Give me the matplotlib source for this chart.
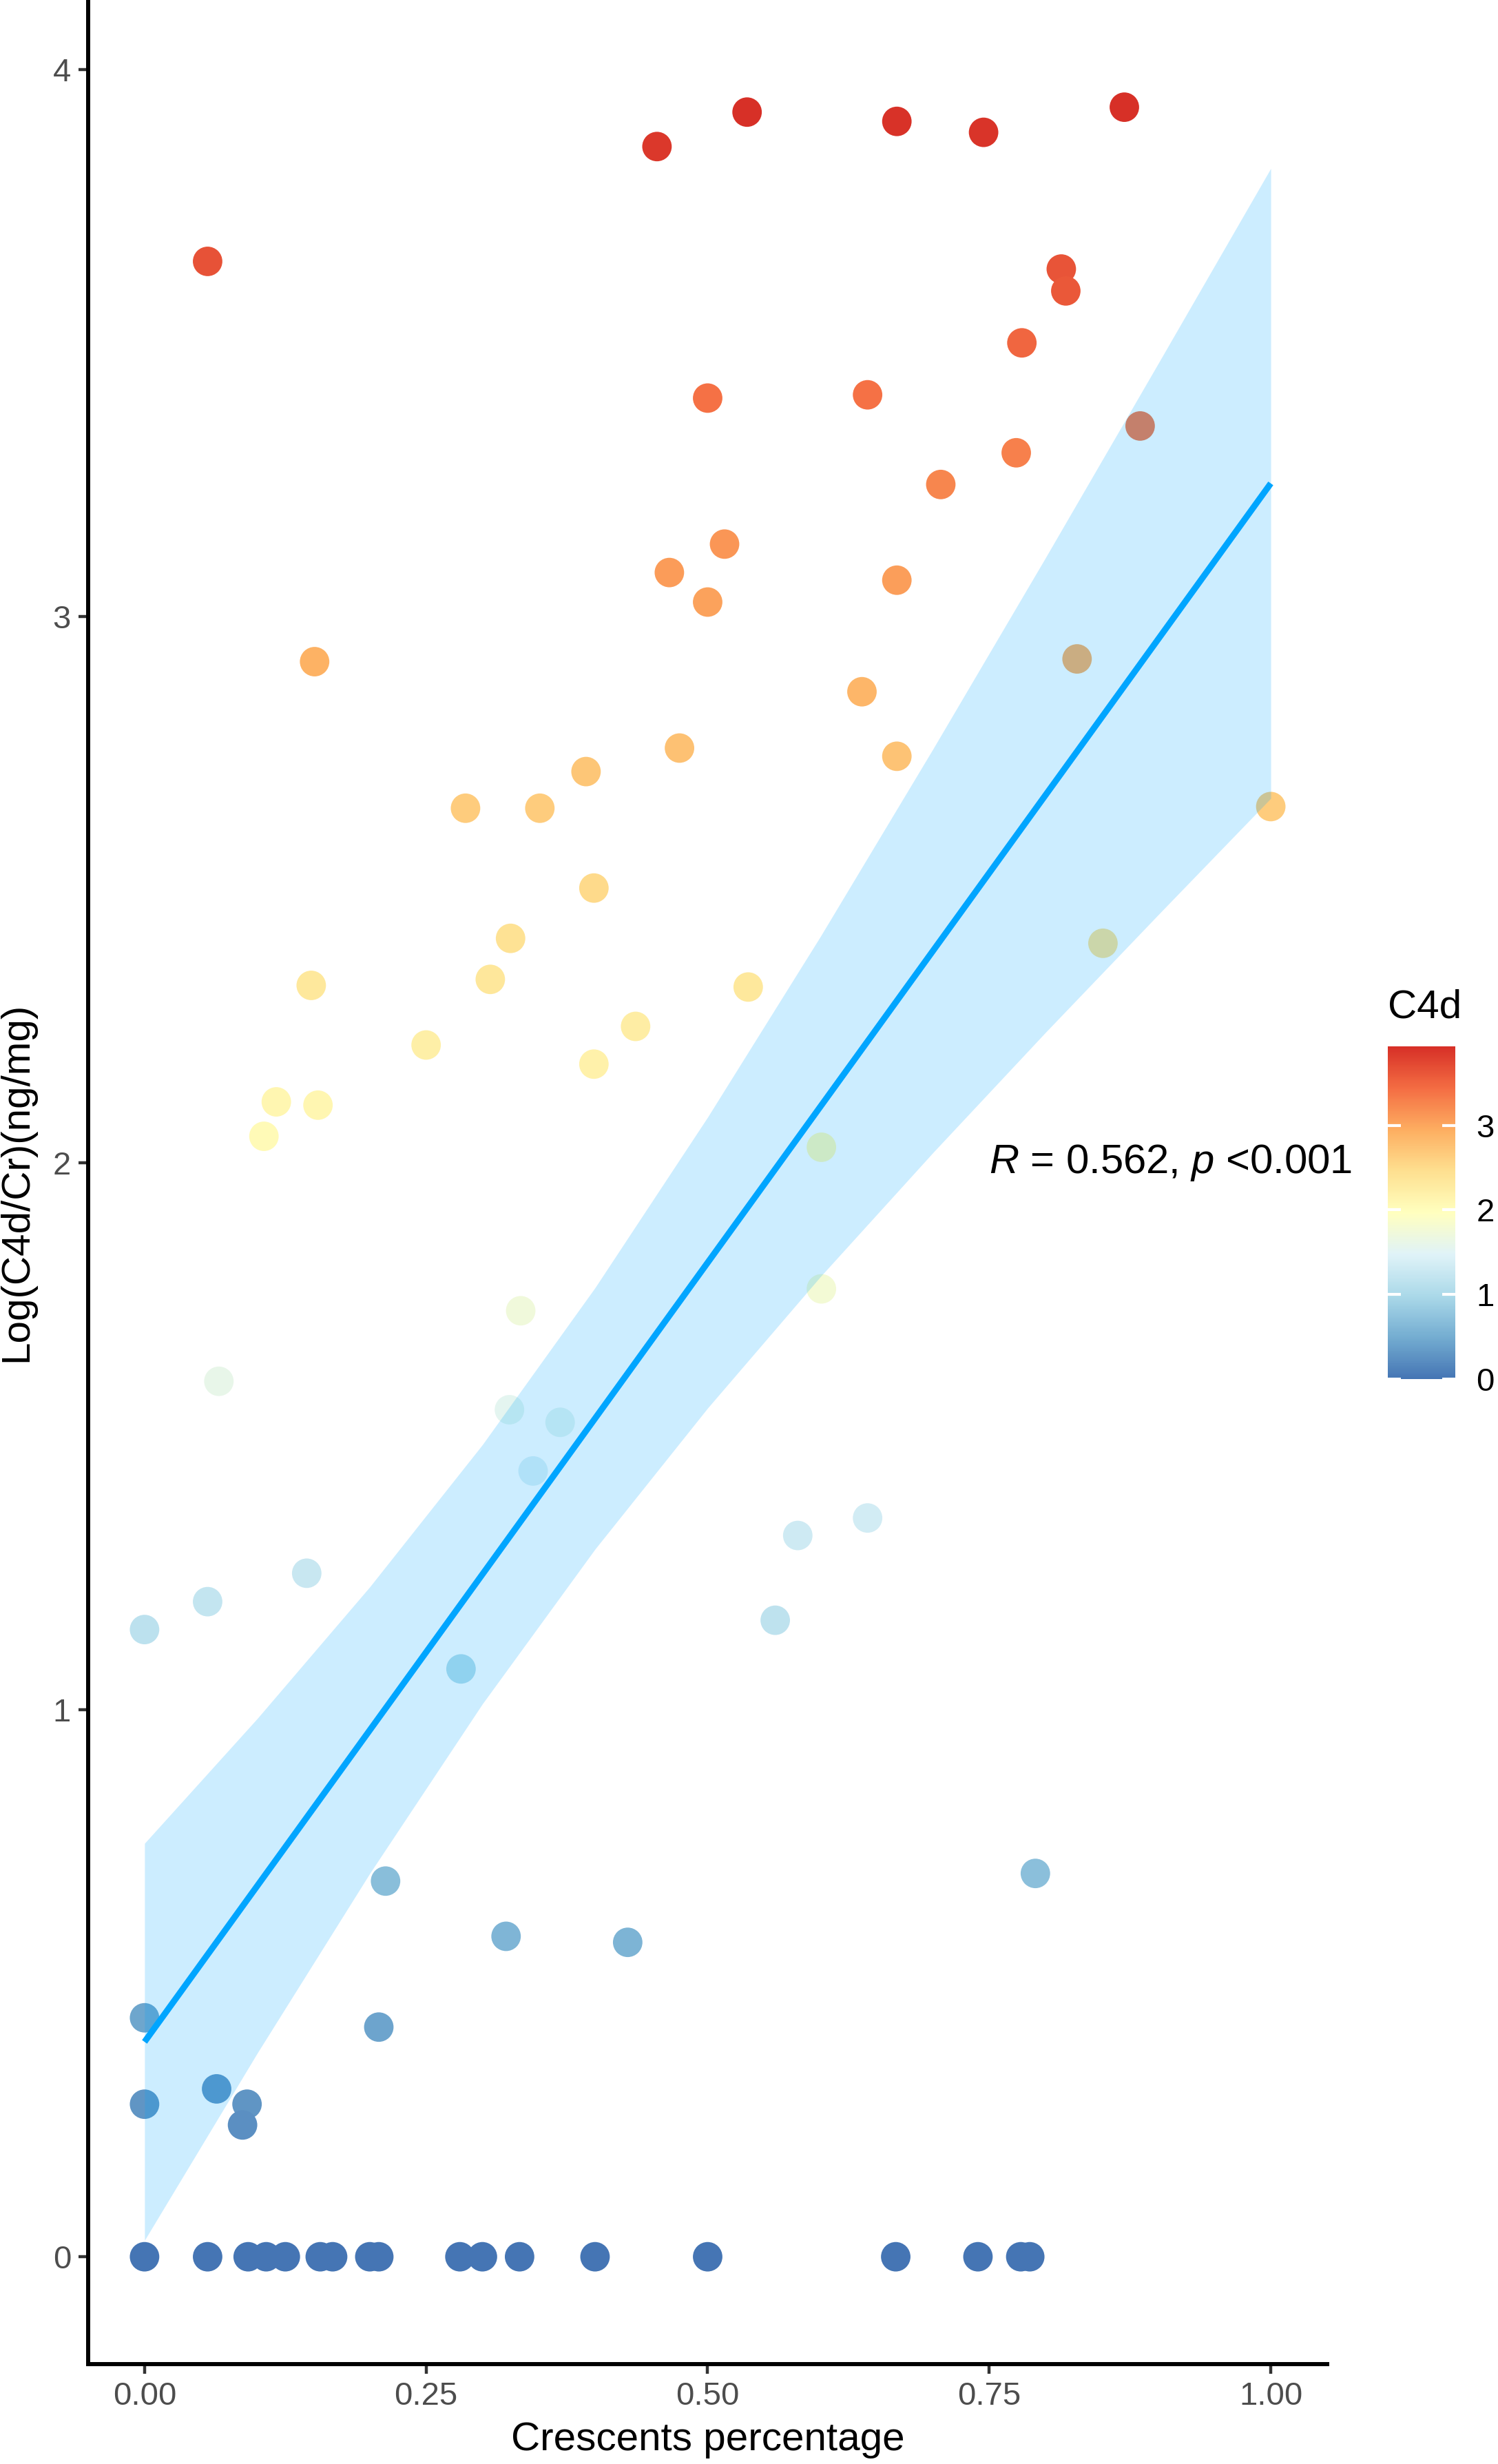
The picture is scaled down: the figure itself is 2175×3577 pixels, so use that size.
import numpy as np
import matplotlib
matplotlib.use("Agg")
import matplotlib.pyplot as plt
from matplotlib.colors import LinearSegmentedColormap

plt.rcParams['font.family'] = ['Liberation Sans', 'DejaVu Sans']
plt.rcParams['mathtext.fontset'] = 'custom'
plt.rcParams['mathtext.rm'] = 'Liberation Sans'
plt.rcParams['mathtext.it'] = 'Liberation Sans:italic'

# crescents percentage (x) and log(C4d/Cr) (y)
crescents = [
    0.455, 0.535, 0.668, 0.745, 0.870, 0.056, 0.814, 0.818, 0.779, 0.500,
    0.642, 0.884, 0.774, 0.707, 0.515, 0.466, 0.668, 0.500, 0.151, 0.828,
    0.637, 0.475, 0.668, 0.392, 0.285, 0.351, 1.000, 0.399, 0.325, 0.851,
    0.148, 0.307, 0.536, 0.250, 0.436, 0.399, 0.117, 0.154, 0.106, 0.601,
    0.334, 0.601, 0.066, 0.324, 0.369, 0.345, 0.642, 0.580, 0.144, 0.056,
    0.000, 0.560, 0.281, 0.214, 0.791, 0.321, 0.429, 0.000, 0.208, 0.064,
    0.000, 0.091, 0.087,
    # zero row
    0.000, 0.056, 0.092, 0.108, 0.125, 0.156, 0.167, 0.200, 0.208, 0.280,
    0.300, 0.333, 0.400, 0.500, 0.667, 0.740, 0.778, 0.786,
]
log_c4d = [
    3.859, 3.922, 3.905, 3.885, 3.931, 3.649, 3.635, 3.595, 3.500, 3.399,
    3.405, 3.348, 3.299, 3.241, 3.132, 3.080, 3.066, 3.026, 2.917, 2.922,
    2.862, 2.759, 2.744, 2.716, 2.649, 2.649, 2.652, 2.503, 2.411, 2.402,
    2.325, 2.336, 2.322, 2.216, 2.250, 2.181, 2.112, 2.106, 2.049, 2.029,
    1.730, 1.770, 1.601, 1.549, 1.526, 1.437, 1.351, 1.319, 1.250, 1.198,
    1.147, 1.164, 1.075, 0.687, 0.701, 0.586, 0.575, 0.437, 0.420, 0.307,
    0.279, 0.279, 0.241,
    0, 0, 0, 0, 0, 0, 0, 0, 0, 0,
    0, 0, 0, 0, 0, 0, 0, 0,
]

# regression line and its 95% band as drawn in the picture
fit_x = [0.0, 1.0]
fit_y = [0.393, 3.243]
band_x = [0.0, 0.1, 0.2, 0.3, 0.4, 0.5, 0.6, 0.7, 0.8, 0.9, 1.0]
band_lower = [0.030, 0.372, 0.701, 1.011, 1.294, 1.552, 1.792, 2.019, 2.239, 2.454, 2.667]
band_upper = [0.756, 0.984, 1.225, 1.485, 1.772, 2.084, 2.414, 2.757, 3.107, 3.462, 3.819]

cor_label = r'$\it{R}$ = 0.562, $\it{p}$ <0.001'

x = np.array(crescents)
y = np.array(log_c4d)

palette = ['#4575B4', '#74ADD1', '#ABD9E9', '#E0F3F8', '#FFFFBF',
           '#FEE090', '#FDAE61', '#F46D43', '#D73027']
cmap = LinearSegmentedColormap.from_list('rdylbu_r', palette)

fig = plt.figure(figsize=(21.75, 35.77), dpi=100)
ax = fig.add_axes([0.0589, 0.0405, 0.827, 0.9595])

sc = ax.scatter(x, y, c=y, cmap=cmap, vmin=0, vmax=y.max(), s=950,
                linewidths=0, zorder=2)

line_col = '#00A5FF'
ax.fill_between(band_x, band_lower, band_upper, color=line_col, alpha=0.2,
                linewidth=0, zorder=3)
ax.plot(fit_x, fit_y, color=line_col, linewidth=6.5, zorder=4,
        solid_capstyle='butt')

ax.text(0.75, 2.0, cor_label, fontsize=43, ha='left', va='center',
        clip_on=False, zorder=5)

ax.set_xlim(-0.05, 1.05)
ax.set_ylim(-0.1965, 4.127)
ax.set_xticks([0, 0.25, 0.5, 0.75, 1.0])
ax.set_xticklabels(['0.00', '0.25', '0.50', '0.75', '1.00'])
ax.set_yticks([0, 1, 2, 3, 4])
for side in ['top', 'right']:
    ax.spines[side].set_visible(False)
for side in ['left', 'bottom']:
    ax.spines[side].set_linewidth(4.3)
ax.tick_params(length=10, width=3.2, color='#333333', labelcolor='#4D4D4D',
               labelsize=34, pad=8)
ax.set_xlabel('Crescents percentage', fontsize=42, labelpad=10)
ax.set_ylabel('Log(C4d/Cr)(ng/mg)', fontsize=42, labelpad=18)

cax = fig.add_axes([0.9265, 0.4403, 0.045, 0.135])
cb = fig.colorbar(sc, cax=cax)
cb.outline.set_visible(False)
cb.set_ticks([0, 1, 2, 3])
cax.tick_params(which='both', direction='in', length=14, width=3,
                color='white', left=True, right=True, labelsize=34, pad=22,
                labelcolor='#000000')
cax.set_title('C4d', fontsize=42, loc='left', pad=30)

fig.savefig('out.png', dpi=100)
